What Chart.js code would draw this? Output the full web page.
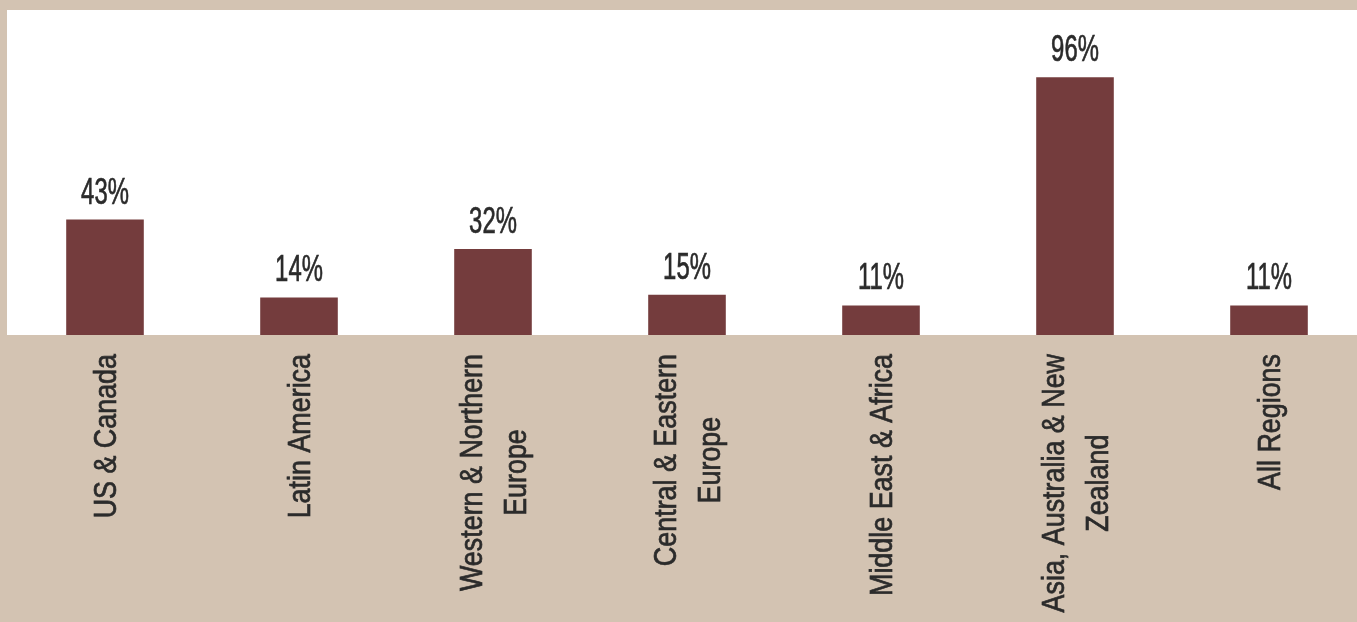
<!DOCTYPE html>
<html>
<head>
<meta charset="utf-8">
<script src="https://cdn.jsdelivr.net/npm/chart.js@4.4.0/dist/chart.umd.min.js"></script>
<style>
  html, body { margin: 0; padding: 0; overflow: hidden; background: #d3c3b2; }
  #wrap { position: relative; width: 1370px; height: 622px; }
</style>
</head>
<body>
<div id="wrap"><canvas id="chart"></canvas></div>
<script>
// chart data
const regions = [
    ['US & Canada'],
    ['Latin America'],
    ['Western & Northern', 'Europe'],
    ['Central & Eastern', 'Europe'],
    ['Middle East & Africa'],
    ['Asia, Australia & New', 'Zealand'],
    ['All Regions']
];
const shares = [43, 14, 32, 15, 11, 96, 11];

const FONT = '"Liberation Sans", Arial, sans-serif';
const BAR = '#743c3d';
const INK = '#2b2b2b';
// the source uses a narrow display face, so the glyphs are squeezed along the text
const VALUE_SQUEEZE = 0.645;
const NAME_SQUEEZE = 0.84;

// white plot panel behind the bars
const panelPlugin = {
    id: 'panel',
    beforeDraw(chart) {
        const {ctx, chartArea} = chart;
        ctx.save();
        ctx.fillStyle = '#ffffff';
        ctx.fillRect(chartArea.left - 1, chartArea.top, chart.width, chartArea.bottom - chartArea.top);
        ctx.restore();
    }
};

// filled text with a hairline stroke so it reads a bit heavier, like the source
function heavyText(ctx, text, x, y) {
    ctx.fillText(text, x, y);
    ctx.strokeText(text, x, y);
}

// value labels on top, rotated region names below
const labelPlugin = {
    id: 'labels',
    afterDatasetsDraw(chart) {
        const {ctx, chartArea} = chart;
        const meta = chart.getDatasetMeta(0);
        const xs = chart.scales.x;
        ctx.save();
        ctx.fillStyle = INK;
        ctx.strokeStyle = INK;
        ctx.lineWidth = 0.7;
        // values
        ctx.font = '37px ' + FONT;
        ctx.textAlign = 'center';
        ctx.textBaseline = 'alphabetic';
        meta.data.forEach((bar, i) => {
            ctx.save();
            ctx.translate(bar.x, bar.y - 16);
            ctx.scale(VALUE_SQUEEZE, 1);
            heavyText(ctx, shares[i] + '%', 0, 0);
            ctx.restore();
        });
        // region names
        ctx.font = '32px ' + FONT;
        const lineH = 44;
        const startY = chartArea.bottom + 19;
        regions.forEach((lines, i) => {
            const cx = xs.getPixelForValue(i);
            const maxW = Math.max(...lines.map(l => ctx.measureText(l).width)) * NAME_SQUEEZE;
            ctx.save();
            ctx.translate(cx, startY + maxW / 2);
            ctx.rotate(-Math.PI / 2);
            ctx.scale(NAME_SQUEEZE, 1);
            ctx.textAlign = 'center';
            ctx.textBaseline = 'middle';
            lines.forEach((l, j) => {
                heavyText(ctx, l, 0, (j - (lines.length - 1) / 2) * lineH + 2);
            });
            ctx.restore();
        });
        ctx.restore();
    }
};

new Chart(document.getElementById('chart'), {
    type: 'bar',
    data: {
        labels: regions,
        datasets: [{
            data: shares,
            backgroundColor: BAR,
            barPercentage: 0.4,
            categoryPercentage: 1
        }]
    },
    options: {
        responsive: true,
        maintainAspectRatio: false,
        animation: false,
        layout: {padding: {top: 10, left: 8, right: 4, bottom: 287}},
        plugins: {legend: {display: false}, tooltip: {enabled: false}},
        scales: {
            x: {display: false},
            y: {display: false, min: 0, max: 121}
        }
    },
    plugins: [panelPlugin, labelPlugin]
});
</script>
</body>
</html>
